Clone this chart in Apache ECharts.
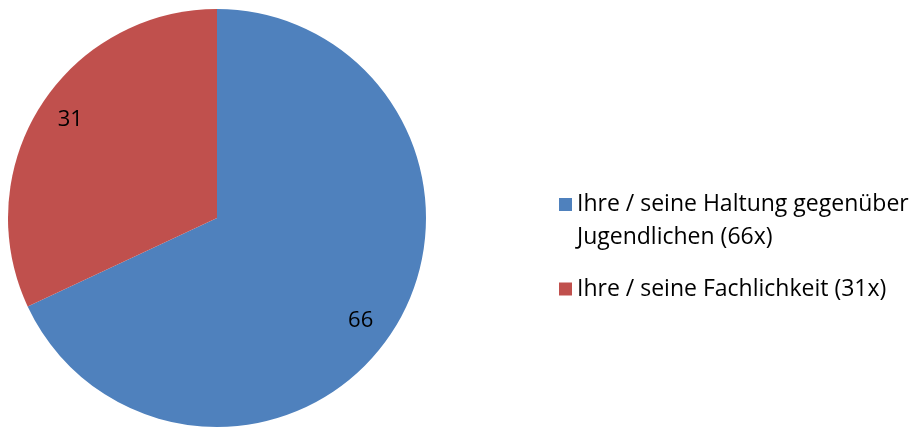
<!DOCTYPE html>
<html><head><meta charset="utf-8">
<script src="https://cdn.jsdelivr.net/npm/echarts@6/dist/echarts.min.js"></script>
<style>html,body{margin:0;padding:0;background:#fff}#c{width:921px;height:427px}</style>
</head><body><div id="c"></div>
<script>
const categories = ['Ihre / seine Haltung gegenüber Jugendlichen (66x)', 'Ihre / seine Fachlichkeit (31x)'];
const legendLabels = ['\u00a0\nIhre / seine Haltung gegenüber\nJugendlichen (66x)', 'Ihre / seine Fachlichkeit (31x)'];
const values = [66, 31];
const colors = ['#4F81BD', '#C0504D'];

const font = 'Open Sans';
const labelOffsets = [[-9, 6], [6, -1]];
const legendTops = [155, 272.5];

const data = categories.map((n, i) => ({ name: n, value: values[i], itemStyle: { color: colors[i] } }));
const chart = echarts.init(document.getElementById('c'), null, { renderer: 'canvas' });
chart.setOption({
  animation: false,
  legend: categories.map((n, i) => ({
    orient: 'vertical', left: 559, top: legendTops[i], padding: 0,
    itemWidth: 13, itemHeight: 13, icon: 'rect', selectedMode: false,
    formatter: nm => legendLabels[categories.indexOf(nm)],
    textStyle: { fontFamily: font, fontSize: 23, color: '#000', lineHeight: 33 },
    data: [n]
  })),
  series: [{
    type: 'pie', center: [217, 218], radius: [0, 209], startAngle: 90, clockwise: true,
    label: { show: false }, labelLine: { show: false }, silent: true,
    itemStyle: { borderWidth: 0 }, data: data
  }, {
    type: 'pie', center: [217, 218], radius: [148, 208], startAngle: 90, clockwise: true,
    silent: true, legendHoverLink: false,
    itemStyle: { color: 'rgba(0,0,0,0)', borderWidth: 0 },
    label: { show: true, position: 'inside', formatter: p => String(p.value), fontFamily: font, fontSize: 22, color: '#000' },
    labelLine: { show: false },
    data: categories.map((n, i) => ({ name: n, value: values[i], label: { offset: labelOffsets[i] } }))
  }]
});
</script></body></html>
